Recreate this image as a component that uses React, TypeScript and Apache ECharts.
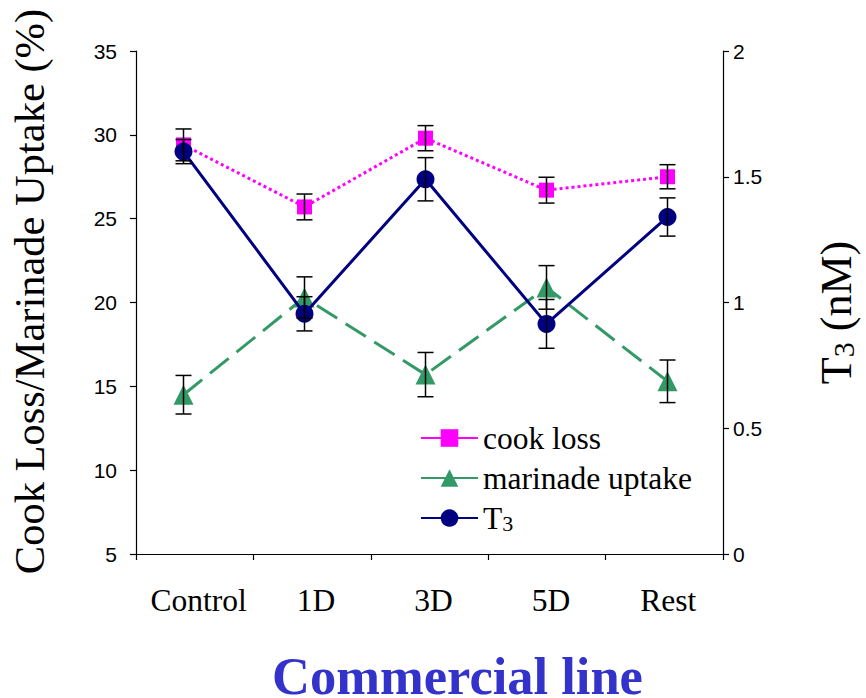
import React, { useEffect, useRef } from 'react';
import * as echarts from 'echarts';

const categories = ['Control', '1D', '3D', '5D', 'Rest'];
const cookLoss = [29.4, 25.7, 29.8, 26.7, 27.5];
const cookLossErr = [0.95, 0.77, 0.75, 0.77, 0.72];
const marinadeUptake = [14.5, 20.3, 15.7, 20.9, 15.3];
const marinadeErr = [1.15, 1.23, 1.32, 1.3, 1.27];
const t3 = [1.6, 0.955, 1.49, 0.915, 1.34];
const t3Err = [0.048, 0.068, 0.086, 0.097, 0.076];
const seriesNames = ['cook loss', 'marinade uptake', 'T3'];

const SERIF = 'Liberation Serif';
const SANS = 'Liberation Sans';

function errorBars(values: number[], errs: number[], yAxisIndex: number) {
  return {
    type: 'custom',
    xAxisIndex: 1,
    yAxisIndex,
    z: 10,
    silent: true,
    data: values.map((v, i) => [i, v - errs[i], v + errs[i]]),
    encode: { x: 0, y: [1, 2] },
    renderItem: (params: any, api: any) => {
      const x = api.value(0);
      const lo = api.coord([x, api.value(1)]);
      const hi = api.coord([x, api.value(2)]);
      const hw = 8;
      const style = { stroke: '#000', lineWidth: 1.5 };
      return {
        type: 'group',
        children: [
          { type: 'line', shape: { x1: hi[0], y1: hi[1], x2: lo[0], y2: lo[1] }, style },
          { type: 'line', shape: { x1: hi[0] - hw, y1: hi[1], x2: hi[0] + hw, y2: hi[1] }, style },
          { type: 'line', shape: { x1: lo[0] - hw, y1: lo[1], x2: lo[0] + hw, y2: lo[1] }, style },
        ],
      };
    },
  };
}

export default function App() {
  const ref = useRef<HTMLDivElement>(null);
  useEffect(() => {
    if (!ref.current) return;
    const chart = echarts.init(ref.current, null, { renderer: 'svg' });
    const axisLine = { show: true, lineStyle: { color: '#000', width: 1.2 } };
    const axisTick = { show: true, length: 6, lineStyle: { color: '#000', width: 1.2 } };
    chart.setOption({
      animation: false,
      backgroundColor: '#fff',
      textStyle: { fontFamily: SERIF },
      grid: [
        { left: 133, top: 51, width: 604, height: 503 },
        { left: 123, top: 51, width: 605, height: 503 },
      ],
      xAxis: [
        {
          type: 'category',
          gridIndex: 0,
          data: categories,
          boundaryGap: true,
          axisLine,
          axisTick: { ...axisTick, interval: 0 },
          axisLabel: {
            interval: 0,
            margin: 30,
            fontFamily: SERIF,
            fontSize: 31.5,
            color: '#000',
            padding: [0, 0, 0, 8],
          },
        },
        { type: 'category', gridIndex: 1, data: categories, boundaryGap: true, show: false },
      ],
      yAxis: [
        {
          type: 'value',
          gridIndex: 0,
          position: 'left',
          min: 5,
          max: 35,
          interval: 5,
          splitLine: { show: false },
          axisLine,
          axisTick,
          axisLabel: { margin: 19, fontFamily: SANS, fontSize: 21, color: '#000' },
          name: 'Cook Loss/Marinade Uptake (%)',
          nameLocation: 'middle',
          nameRotate: 90,
          nameGap: 85,
          nameTextStyle: { fontFamily: SERIF, fontSize: 42.5, color: '#000', padding: [0, 0, 0, 22] },
        },
        {
          type: 'value',
          gridIndex: 0,
          position: 'right',
          min: 0,
          max: 2,
          interval: 0.5,
          splitLine: { show: false },
          axisLine,
          axisTick,
          axisLabel: { margin: 10, fontFamily: SANS, fontSize: 21, color: '#000' },
          name: 'T{sub|3} (nM)',
          nameLocation: 'middle',
          nameRotate: 90,
          nameGap: 91,
          nameTextStyle: {
            fontFamily: SERIF,
            fontSize: 44,
            color: '#000',
            padding: [0, 20, 0, 0],
            rich: { sub: { fontFamily: SERIF, fontSize: 30, color: '#000', verticalAlign: 'bottom', lineHeight: 20 } },
          },
        },
        { type: 'value', gridIndex: 1, min: 5, max: 35, interval: 5, show: false, splitLine: { show: false } },
        { type: 'value', gridIndex: 1, position: 'right', min: 0, max: 2, interval: 0.5, show: false, splitLine: { show: false } },
      ],
      legend: {
        data: seriesNames,
        orient: 'vertical',
        left: 420,
        top: 422,
        padding: 0,
        itemWidth: 57,
        itemHeight: 22,
        itemGap: 8,
        lineStyle: { type: 'solid' },
        formatter: (n: string) => (n === 'T3' ? 'T{sub|3}' : n),
        textStyle: {
          fontFamily: SERIF,
          fontSize: 31.5,
          color: '#000',
          rich: { sub: { fontFamily: SERIF, fontSize: 22, color: '#000', verticalAlign: 'bottom', lineHeight: 12 } },
        },
      },
      graphic: [
        {
          type: 'text',
          x: 457.5,
          y: 676,
          style: {
            text: 'Commercial line',
            font: 'bold 52.5px "Liberation Serif", serif',
            lineHeight: 40,
            fill: '#3333cc',
            textAlign: 'center',
            textVerticalAlign: 'middle',
          },
        },
      ],
      series: [
        {
          name: seriesNames[0],
          type: 'line',
          xAxisIndex: 1,
          yAxisIndex: 2,
          data: cookLoss,
          symbol: 'rect',
          symbolSize: 15,
          itemStyle: { color: '#ff00ff' },
          lineStyle: { color: '#ff00ff', width: 3, type: 'dotted' },
          z: 3,
        },
        {
          name: seriesNames[1],
          type: 'line',
          xAxisIndex: 1,
          yAxisIndex: 2,
          data: marinadeUptake,
          symbol: 'triangle',
          symbolSize: 20,
          itemStyle: { color: '#339966' },
          lineStyle: { color: '#339966', width: 3, type: [24, 10] },
          z: 4,
        },
        {
          name: seriesNames[2],
          type: 'line',
          xAxisIndex: 1,
          yAxisIndex: 3,
          data: t3,
          symbol: 'circle',
          symbolSize: 18,
          itemStyle: { color: '#000080' },
          lineStyle: { color: '#000080', width: 3, type: 'solid' },
          z: 5,
        },
        errorBars(cookLoss, cookLossErr, 2),
        errorBars(marinadeUptake, marinadeErr, 2),
        errorBars(t3, t3Err, 3),
      ],
    });
    return () => chart.dispose();
  }, []);
  return <div ref={ref} style={{ width: 866, height: 698, position: 'absolute', left: 0, top: 0 }} />;
}
